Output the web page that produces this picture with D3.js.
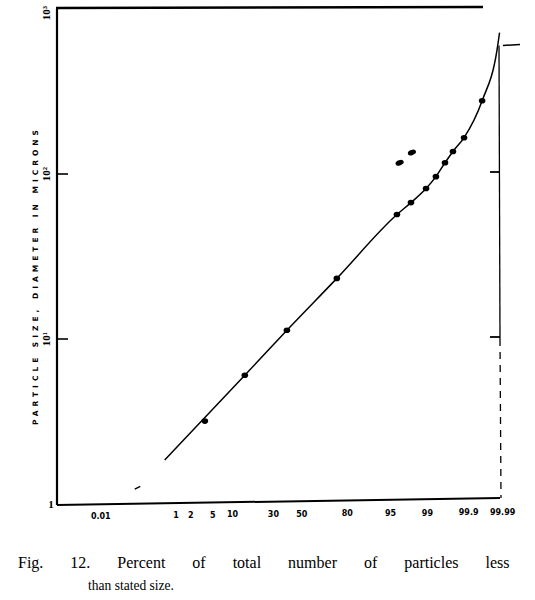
<!DOCTYPE html>
<html><head><meta charset="utf-8">
<script src="https://cdn.jsdelivr.net/npm/d3@7"></script>
<style>body{margin:0;background:#fff}svg{display:block}</style>
</head><body>
<svg id="c" width="535" height="600"></svg>
<script>
// ---- data ----
const pointPct  = [3.65, 14.6, 39.2, 74.2, 96.1, 97.84, 98.93, 99.35, 99.60, 99.744, 99.867, 99.958];
const pointSize = [3.18, 6.03, 11.3, 23.3, 56.8, 67.1, 81.6, 96.4, 117, 137, 166, 278];
const strayPct  = [96.5, 97.93];
const straySize = [117, 135];
const curvePct  = [0.56, 14.6, 39.2, 74.2, 96.1, 97.84, 98.93, 99.35, 99.60, 99.744, 99.867, 99.958, 99.985, 99.9875];
const curveSize = [1.85, 6.03, 11.3, 23.3, 56.8, 67.1, 81.6, 96.4, 117, 137, 166, 278, 566, 720];
const extPct    = [0.1, 0.14];
const extSize   = [1.23, 1.28];
const xTickPct    = [0.01, 1, 2, 5, 10, 30, 50, 80, 95, 99, 99.9, 99.99];
const xTickLabels = ["0.01", "1", "2", "5", "10", "30", "50", "80", "95", "99", "99.9", "99.99"];
const yTickVals   = [1, 10, 100, 1000];
const yTickLabels = ["1", "10¹", "10²", "10³"];
const yTitle = "PARTICLE SIZE, DIAMETER IN MICRONS";
const caption1 = "Fig. 12.  Percent of total number of particles less";
const caption2 = "than stated size.";

// inverse normal CDF (Acklam)
function probit(p){
  const a=[-3.969683028665376e+01,2.209460984245205e+02,-2.759285104469687e+02,1.383577518672690e+02,-3.066479806614716e+01,2.506628277459239e+00];
  const b=[-5.447609879822406e+01,1.615858368580409e+02,-1.556989798598866e+02,6.680131188771972e+01,-1.328068155288572e+01];
  const c=[-7.784894002430293e-03,-3.223964580411365e-01,-2.400758277161838e+00,-2.549732539343734e+00,4.374664141464968e+00,2.938163982698783e+00];
  const d=[7.784695709041462e-03,3.224671290700398e-01,2.445134137142996e+00,3.754408661907416e+00];
  const pl=0.02425;
  if(p<pl){const q=Math.sqrt(-2*Math.log(p));return (((((c[0]*q+c[1])*q+c[2])*q+c[3])*q+c[4])*q+c[5])/((((d[0]*q+d[1])*q+d[2])*q+d[3])*q+1);}
  if(p>1-pl){const q=Math.sqrt(-2*Math.log(1-p));return -(((((c[0]*q+c[1])*q+c[2])*q+c[3])*q+c[4])*q+c[5])/((((d[0]*q+d[1])*q+d[2])*q+d[3])*q+1);}
  const q=p-0.5,r=q*q;
  return (((((a[0]*r+a[1])*r+a[2])*r+a[3])*r+a[4])*r+a[5])*q/(((((b[0]*r+b[1])*r+b[2])*r+b[3])*r+b[4])*r+1);
}

const L=57, R=500, T=9, B=504;
const zScale = d3.scaleLinear().domain([-4.53, 3.67]).range([L, R]);
const x = pct => zScale(probit(pct/100));
const y = d3.scaleLog().domain([1, 1000]).range([B, T]);

const svg = d3.select("#c");
const ink = "#000";

// frame
const frame = svg.append("g").attr("fill","none").attr("stroke",ink);
frame.append("line").attr("x1",L).attr("x2",L).attr("y1",T).attr("y2",B+1).attr("stroke-width",2.2);
frame.append("line").attr("x1",L-1).attr("x2",483).attr("y1",T-1).attr("y2",T-2).attr("stroke-width",2.4);
frame.append("line").attr("x1",L).attr("x2",R).attr("y1",B+1).attr("y2",B-6).attr("stroke-width",2);
frame.append("line").attr("x1",R-1).attr("x2",R).attr("y1",y(600)).attr("y2",y(10)).attr("stroke-width",1.3);
frame.append("line").attr("x1",R).attr("x2",R+1).attr("y1",y(10)).attr("y2",B-6).attr("stroke-width",1.3).attr("stroke-dasharray","7,6");
frame.append("line").attr("x1",R+3).attr("x2",R+20).attr("y1",y(600)).attr("y2",y(610)).attr("stroke-width",1.5);

// y ticks (left and right inner ticks)
[10,100].forEach(v=>{
  frame.append("line").attr("x1",L).attr("x2",L+11).attr("y1",y(v)).attr("y2",y(v)).attr("stroke-width",1.6);
  frame.append("line").attr("x1",R-10).attr("x2",R).attr("y1",y(v)-2).attr("y2",y(v)-2).attr("stroke-width",1.8);
});

// y tick labels (rotated like the scan)
svg.append("g").selectAll("text").data(yTickVals).join("text")
  .attr("transform",(d,i)=>`translate(${i===0?51:47},${y(d)+(i===3?4:0)}) rotate(${i===0?0:-90})`)
  .attr("text-anchor","middle").attr("dy", (d,i)=> i===0 ? "0.35em" : "0.3em")
  .attr("font-family","Liberation Serif, serif").attr("font-weight","bold").attr("font-size",11)
  .text((d,i)=>yTickLabels[i]);

// y title
svg.append("text").attr("transform",`translate(35,${(130+425)/2}) rotate(-90)`)
  .attr("text-anchor","middle").attr("dy","0.35em")
  .attr("font-family","DejaVu Sans, sans-serif").attr("font-weight","bold").attr("font-size",7.5)
  .attr("textLength",295).attr("lengthAdjust","spacing")
  .text(yTitle);

// x tick labels
svg.append("g").selectAll("text").data(xTickPct).join("text")
  .attr("x",d=>x(d)).attr("y",d=> 519 - (x(d)-L)/(R-L)*4)
  .attr("text-anchor","middle")
  .attr("font-family","DejaVu Sans, sans-serif").attr("font-weight","bold").attr("font-size",8)
  .text((d,i)=>xTickLabels[i]);

// fitted curve
const line = d3.line().x(d=>x(d[0])).y(d=>y(d[1])).curve(d3.curveMonotoneX);
svg.append("path").datum(d3.zip(curvePct, curveSize)).attr("d",line)
  .attr("fill","none").attr("stroke",ink).attr("stroke-width",1.5);
svg.append("path").datum(d3.zip(extPct, extSize)).attr("d",d3.line().x(d=>x(d[0])).y(d=>y(d[1])))
  .attr("fill","none").attr("stroke",ink).attr("stroke-width",1.4);

// points
svg.append("g").selectAll("ellipse").data(d3.zip(pointPct, pointSize)).join("ellipse")
  .attr("cx",d=>x(d[0])).attr("cy",d=>y(d[1])).attr("rx",3.3).attr("ry",2.8).attr("fill",ink);
svg.append("g").selectAll("ellipse").data(d3.zip(strayPct, straySize)).join("ellipse")
  .attr("transform",d=>`translate(${x(d[0])},${y(d[1])}) rotate(-20)`)
  .attr("rx",4.2).attr("ry",2.6).attr("fill",ink);

// caption
svg.append("text").attr("x",18).attr("y",568)
  .attr("font-family","Liberation Serif, serif").attr("font-size",16)
  .attr("word-spacing",23).text(caption1);
svg.append("text").attr("x",88).attr("y",590)
  .attr("font-family","Liberation Serif, serif").attr("font-size",15)
  .attr("textLength",86).attr("lengthAdjust","spacingAndGlyphs").text(caption2);
</script>
</body></html>
